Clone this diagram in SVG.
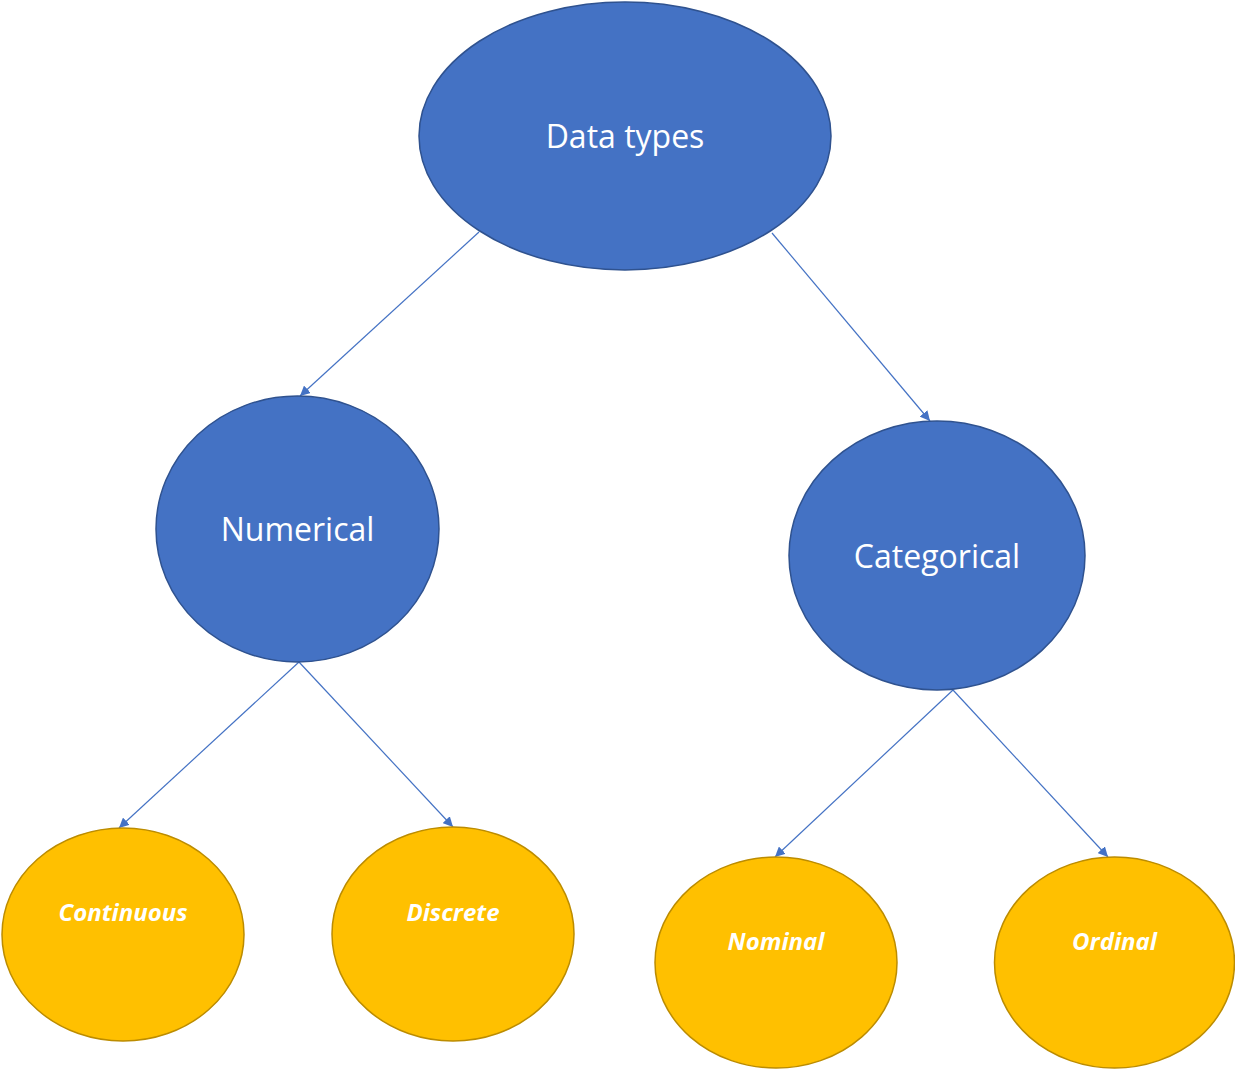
<svg xmlns="http://www.w3.org/2000/svg" width="1235" height="1070" viewBox="0 0 1235 1070">
<defs>
<style>
.blue{fill:#4472C4;stroke:#2F528F;stroke-width:1.5}
.yel{fill:#FFC000;stroke:#BC8C00;stroke-width:1.5}
.t{fill:#fff;font-family:"Open Sans","Noto Sans",sans-serif;text-anchor:middle}
.big{font-size:32px}
.sm{font-size:24px;font-weight:bold;font-style:italic}
.c{stroke:#4472C4;stroke-width:1.2;fill:none;marker-end:url(#ah)}
</style>
<marker id="ah" viewBox="0 0 10 10" refX="10" refY="5" markerWidth="10" markerHeight="10" markerUnits="userSpaceOnUse" orient="auto">
<path d="M0,0 L10,5 L0,10 z" fill="#4472C4"/>
</marker>
</defs>
<rect width="1235" height="1070" fill="#fff"/>
<g id="connectors">
<line class="c" x1="479" y1="232" x2="300" y2="396"/>
<line class="c" x1="772" y1="233" x2="930" y2="421"/>
<line class="c" x1="299" y1="662" x2="119" y2="828"/>
<line class="c" x1="299" y1="662" x2="453" y2="827"/>
<line class="c" x1="953" y1="690" x2="775" y2="857"/>
<line class="c" x1="953" y1="690" x2="1108" y2="857"/>
</g>
<g id="data-types"><ellipse class="blue" cx="625" cy="136" rx="206" ry="134"/><text class="t big" x="625" y="148">Data types</text></g>
<g id="numerical"><ellipse class="blue" cx="297.5" cy="529" rx="141.5" ry="133"/><text class="t big" x="297.5" y="541">Numerical</text></g>
<g id="categorical"><ellipse class="blue" cx="937" cy="555.5" rx="148" ry="134.5"/><text class="t big" x="937" y="568">Categorical</text></g>
<g id="continuous"><ellipse class="yel" cx="123" cy="934.5" rx="121" ry="106.5"/><text class="t sm" x="123" y="921">Continuous</text></g>
<g id="discrete"><ellipse class="yel" cx="453" cy="934" rx="121" ry="107"/><text class="t sm" x="453" y="921">Discrete</text></g>
<g id="nominal"><ellipse class="yel" cx="776" cy="962.5" rx="121" ry="105.5"/><text class="t sm" x="776" y="950">Nominal</text></g>
<g id="ordinal"><ellipse class="yel" cx="1114.5" cy="962.5" rx="120" ry="105.5"/><text class="t sm" x="1114.5" y="950">Ordinal</text></g>
</svg>
